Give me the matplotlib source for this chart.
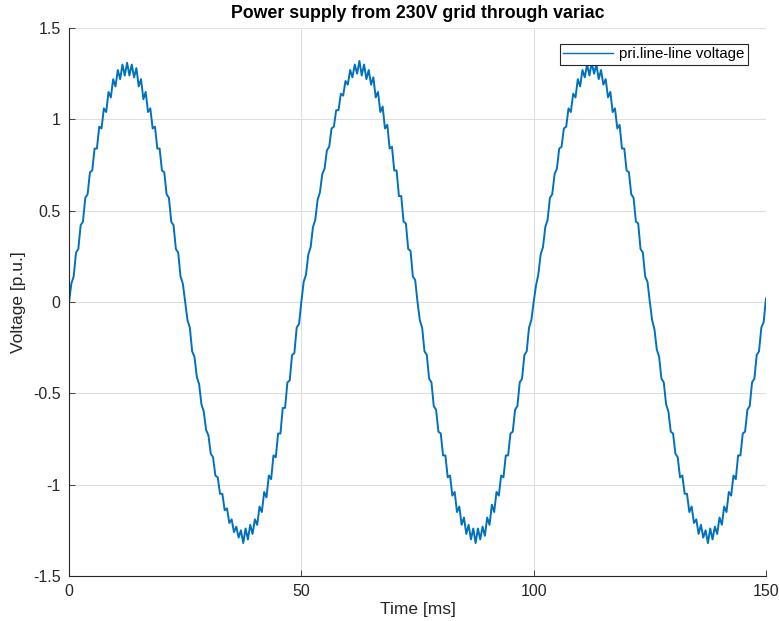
import numpy as np
import matplotlib
matplotlib.use("Agg")
import matplotlib.pyplot as plt

# Sample spacing of the trace (ms)
dt_ms = 0.5
voltage_pu = [
    # cycle 1, positive half
    0.00, 0.10, 0.14, 0.27, 0.29, 0.42, 0.44, 0.57, 0.59, 0.71,
    0.72, 0.84, 0.84, 0.96, 0.95, 1.06, 1.04, 1.15, 1.12, 1.22,
    1.18, 1.27, 1.22, 1.30, 1.24, 1.31, 1.24, 1.30, 1.23, 1.28,
    1.18, 1.22, 1.11, 1.15, 1.04, 1.06, 0.95, 0.96, 0.84, 0.84,
    0.72, 0.71, 0.59, 0.57, 0.44, 0.42, 0.29, 0.27, 0.14, 0.10,
    # cycle 1, negative half
    0.00, -0.10, -0.14, -0.27, -0.30, -0.41, -0.45, -0.56, -0.60, -0.70,
    -0.73, -0.83, -0.85, -0.95, -0.96, -1.05, -1.05, -1.14, -1.13, -1.21,
    -1.19, -1.26, -1.23, -1.29, -1.25, -1.32, -1.24, -1.30, -1.22, -1.27,
    -1.19, -1.22, -1.12, -1.15, -1.04, -1.07, -0.95, -0.97, -0.84, -0.85,
    -0.72, -0.72, -0.58, -0.58, -0.44, -0.43, -0.29, -0.28, -0.14, -0.12,
    # cycle 2, positive half
    0.00, 0.11, 0.15, 0.26, 0.30, 0.41, 0.45, 0.56, 0.60, 0.70,
    0.73, 0.83, 0.85, 0.95, 0.96, 1.05, 1.05, 1.14, 1.13, 1.21,
    1.19, 1.27, 1.23, 1.30, 1.25, 1.32, 1.24, 1.30, 1.22, 1.27,
    1.19, 1.23, 1.12, 1.15, 1.04, 1.07, 0.95, 0.97, 0.84, 0.85,
    0.72, 0.72, 0.58, 0.58, 0.44, 0.43, 0.29, 0.28, 0.14, 0.12,
    # cycle 2, negative half
    0.00, -0.10, -0.14, -0.27, -0.29, -0.42, -0.44, -0.57, -0.59, -0.71,
    -0.72, -0.84, -0.84, -0.96, -0.95, -1.06, -1.04, -1.15, -1.12, -1.22,
    -1.18, -1.27, -1.22, -1.30, -1.24, -1.32, -1.24, -1.30, -1.23, -1.28,
    -1.18, -1.22, -1.11, -1.15, -1.04, -1.06, -0.95, -0.96, -0.84, -0.84,
    -0.72, -0.71, -0.59, -0.57, -0.44, -0.42, -0.29, -0.27, -0.14, -0.10,
    # cycle 3, positive half
    0.00, 0.09, 0.15, 0.26, 0.30, 0.41, 0.45, 0.57, 0.59, 0.70,
    0.73, 0.84, 0.85, 0.95, 0.96, 1.06, 1.04, 1.14, 1.12, 1.22,
    1.18, 1.27, 1.23, 1.30, 1.24, 1.31, 1.25, 1.30, 1.22, 1.27,
    1.19, 1.22, 1.12, 1.15, 1.04, 1.06, 0.95, 0.97, 0.84, 0.84,
    0.72, 0.71, 0.59, 0.57, 0.44, 0.43, 0.29, 0.27, 0.14, 0.11,
    # cycle 3, negative half
    0.00, -0.10, -0.15, -0.26, -0.30, -0.42, -0.44, -0.56, -0.60, -0.71,
    -0.72, -0.83, -0.85, -0.96, -0.95, -1.05, -1.05, -1.15, -1.12, -1.21,
    -1.19, -1.27, -1.22, -1.29, -1.25, -1.32, -1.24, -1.30, -1.23, -1.27,
    -1.18, -1.22, -1.12, -1.15, -1.04, -1.06, -0.95, -0.97, -0.84, -0.84,
    -0.72, -0.71, -0.59, -0.57, -0.44, -0.42, -0.29, -0.27, -0.14, -0.11,
    0.02,
]
time_ms = np.arange(len(voltage_pu)) * dt_ms

x_ticks = [0, 50, 100, 150]
y_ticks = [-1.5, -1, -0.5, 0, 0.5, 1, 1.5]
y_tick_labels = ["-1.5", "-1", "-0.5", "0", "0.5", "1", "1.5"]

plt.rcParams["font.family"] = ["Liberation Sans", "DejaVu Sans"]
text_color = "#262626"

fig = plt.figure(figsize=(7.79, 6.21), dpi=100)
ax = fig.add_axes([0.0886, 0.0725, 0.8947, 0.8824])

ax.plot(time_ms, voltage_pu, color="#0072BD", linewidth=1.4,
        label="pri.line-line voltage")

ax.set_xlim(0, 150)
ax.set_ylim(-1.5, 1.5)
ax.set_xticks(x_ticks)
ax.set_yticks(y_ticks)
ax.set_yticklabels(y_tick_labels)
ax.grid(True, color="#dedede", linewidth=0.8)
ax.set_axisbelow(True)

for side in ["top", "right"]:
    ax.spines[side].set_visible(False)
for side in ["left", "bottom"]:
    ax.spines[side].set_color(text_color)
    ax.spines[side].set_linewidth(0.8)
ax.tick_params(direction="in", length=4, width=0.6, colors=text_color,
               labelsize=11.5, pad=6)

ax.set_xlabel("Time [ms]", fontsize=12.5, color=text_color, labelpad=2)
ax.set_ylabel("Voltage [p.u.]", fontsize=12.5, color=text_color, labelpad=5)
ax.set_title("Power supply from 230V grid through variac", fontsize=12.8,
             fontweight="bold", color="black", pad=7)

leg = ax.legend(loc="upper right", fontsize=10.8, fancybox=False,
                framealpha=1, edgecolor=text_color, borderpad=0.25,
                handlelength=3.3, handletextpad=0.4,
                bbox_to_anchor=(0.985, 0.985))
leg.get_frame().set_linewidth(0.8)
leg.get_lines()[0].set_linewidth(1.0)

fig.savefig("out.png", dpi=100)
